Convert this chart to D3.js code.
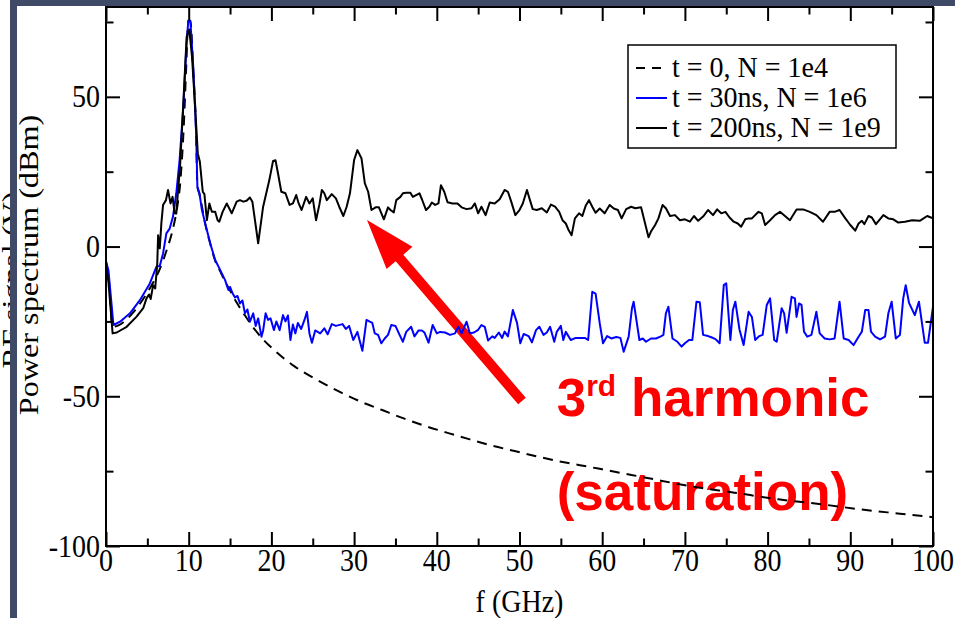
<!DOCTYPE html>
<html><head><meta charset="utf-8">
<script src="https://cdn.jsdelivr.net/npm/d3@7"></script>
<style>html,body{margin:0;padding:0;background:#fff;overflow:hidden}</style>
</head><body><svg id="c" width="955" height="618"></svg>
<script>
// ---------------- data ----------------
const xTicksMajor = [0,10,20,30,40,50,60,70,80,90,100];
const xTicksMinor = [5,15,25,35,45,55,65,75,85,95];
const yTicksMajor = [-100,-50,0,50];
const yTicksMinor = [-75,-25,25,75];
const seriesNames = ["t = 0, N = 1e4","t = 30ns, N = 1e6","t = 200ns, N = 1e9"];

const dashF = [0,0.3,0.8,1.5,2.5,3.5,4.5,5.5,6.5,7.3,8.1,8.6,9.0,9.4,9.7,9.95,10.2,10.55,10.9,11.05,11.3,12.0,12.6,13.2,13.8,14.4,15.0,15.8,16.8,17.8,19.0,20.5,22.8,25.5,28.1,30.8,33.4,36.0,38.7,41.4,44.0,46.7,49.4,52.0,54.7,57.3,60.0,65.3,70.6,76.0,81.3,86.6,91.9,96.0,100];
const dashP = [-5,-10,-26.8,-26.3,-24.3,-21.3,-17.5,-13,-7.5,-1.5,6,13,22,40,60,75.2,75.2,59,37.5,20,17.5,7.5,1,-4.7,-8.2,-11.7,-14.7,-18.7,-23,-27,-31,-35,-40,-44.5,-48.3,-51.8,-54.6,-57.4,-60,-62.3,-64.4,-66.5,-68.3,-70,-71.7,-73,-74.4,-77.2,-80,-82.2,-84.4,-86.1,-88,-89.2,-90.4];

const blueF = [0,0.3,0.9,1.7,2.9,4.1,5.3,6.1,6.5,6.9,7.3,7.7,8.1,8.5,8.9,9.35,9.7,9.95,10.2,10.55,10.9,11.05,11.3,11.6,12.0,12.6,13.2,13.8,14.4,14.8,15.0,15.3,15.6,15.9,16.2,16.5,16.8,17.1,17.4,17.8,18.1,18.4,18.8,19.0,19.3,19.6,19.9,20.3,20.6,21.0,21.4,21.7,22.0,22.3,22.6,22.9,23.2,23.6,24.0,24.3,24.6,24.9,25.3,25.9,26.4,26.8,27.3,27.8,28.6,29.0,29.4,29.9,30.4,31.0,31.5,31.9,32.2,32.5,32.9,33.3,33.7,34.1,34.5,35.0,35.5,35.9,36.3,36.9,37.3,37.8,38.2,38.5,39.0,39.5,40.0,40.4,41.0,41.6,42.2,42.6,43.0,43.6,44.0,44.5,45.0,45.4,45.8,46.2,46.7,47.0,47.5,47.9,48.2,48.6,49.2,49.7,50.1,50.5,51.1,51.5,52.0,52.4,52.9,53.3,53.7,54.2,54.5,55.0,55.3,55.6,56.2,56.8,57.4,57.9,58.3,58.8,59.2,59.7,60.1,60.6,61.1,61.7,62.2,62.6,63.2,63.6,63.8,64.5,64.9,65.3,65.9,66.5,67.1,67.4,67.7,68.0,68.5,69.1,69.6,70.0,70.5,70.9,71.4,71.8,72.2,72.8,73.2,73.7,74.2,74.7,75.0,75.5,75.8,76.1,76.6,77.1,77.7,78.1,78.5,79.0,79.4,79.9,80.3,80.8,81.1,81.7,82.0,82.3,82.9,83.3,83.5,83.8,84.1,84.4,84.8,85.3,85.9,86.3,86.9,87.5,88.1,88.7,89.2,89.8,90.4,91.0,91.4,91.8,92.2,92.5,93.0,93.6,94.2,94.6,95.0,95.5,96.0,96.4,96.7,97.1,97.8,98.3,99.0,99.4,100];
const blueP = [-5,-8,-26.2,-25.1,-22.3,-17.9,-12.3,-6.7,-6.5,-2.3,4.4,6,10,17.8,28.9,46.7,65.6,75.5,75.4,60,37.8,20,17.8,12.2,7.7,1.1,-4.5,-7.8,-11.2,-14.5,-13.5,-15.6,-17,-16.5,-19,-18,-22.3,-21,-25.1,-22.3,-26.5,-24,-30.1,-28,-22.3,-24.5,-24,-27.9,-25,-27.9,-22.9,-25,-23,-31.2,-26,-29,-25.5,-27.5,-24.5,-21.8,-29,-32.1,-28,-29,-27.3,-29.3,-25.9,-26.5,-25.9,-27.5,-26.5,-31.2,-28.5,-34.8,-24.5,-25.1,-25.5,-29,-29.5,-32.3,-30.7,-29.5,-26.2,-26.5,-29.5,-31.8,-28.5,-26.8,-30,-28,-28,-28.7,-32.1,-26.2,-29,-28.5,-28.7,-29.5,-29,-26.8,-29,-25.1,-29,-28.7,-27.8,-26.2,-26.8,-31.4,-30,-30.5,-28.7,-30.5,-28.4,-30,-21.2,-25.5,-32.3,-29.2,-29.9,-32,-27.9,-26.8,-29.5,-28.7,-26.8,-31.8,-28.5,-26.5,-31.2,-28.5,-31.2,-30.5,-30.5,-30.5,-31.2,-15.1,-15.7,-25.6,-32.3,-29.9,-30.7,-30.2,-30.5,-35.1,-30.1,-20.6,-18.4,-31.2,-30.7,-31.8,-30.7,-30.7,-30,-29.5,-22.3,-20.1,-30.7,-31.8,-33.4,-32.3,-31.2,-31.2,-18.4,-18.6,-29.5,-29.9,-30.3,-30.9,-32.3,-12.9,-12.3,-31.2,-21.2,-18.4,-27.7,-32.9,-21.8,-23.5,-31.2,-29.9,-29.5,-19.5,-17.3,-31.2,-31.8,-20.6,-22.3,-28.8,-16.8,-17.3,-23.5,-19,-19.5,-28.4,-30.1,-29.5,-21.8,-29,-30.7,-31,-30.7,-18.4,-30.7,-31.2,-32.9,-30.1,-28.4,-21.2,-21.2,-28.4,-30.1,-31,-30.1,-22.3,-18.4,-30.7,-29.5,-17.3,-12.9,-18.8,-22.9,-18.4,-32.1,-32.1,-20.1];

const blackF = [0,0.3,0.8,1.3,2.5,3.7,4.5,4.9,5.2,5.4,5.7,5.95,6.2,6.3,6.5,6.7,6.9,7.25,7.5,7.8,8.05,8.3,8.5,8.75,8.95,9.35,9.75,10.07,10.4,10.8,11.1,11.35,11.7,11.9,12.2,12.5,12.8,13.2,13.5,13.7,14.1,14.6,15.2,15.8,16.2,16.6,17.0,17.4,17.7,18.4,19.0,19.75,20.2,20.5,20.8,21.2,21.7,22.2,22.6,23.0,23.3,23.65,24.2,24.6,25.0,25.4,25.8,26.1,26.4,26.7,27.3,27.8,28.2,28.7,29.1,29.5,30.0,30.4,30.9,31.3,31.7,32.1,32.6,33.0,33.6,34.1,34.4,34.8,35.1,35.6,35.9,36.3,36.8,37.1,37.5,37.9,38.2,38.7,39.1,39.4,39.8,40.2,40.5,40.9,41.3,41.9,42.5,43.0,43.6,44.2,44.6,45.0,45.4,45.9,46.4,47.0,47.6,48.2,48.6,49.0,49.5,50.0,50.4,50.9,51.2,51.6,52.1,52.7,53.3,53.8,54.3,54.8,55.2,55.6,55.9,56.3,56.7,57.2,57.6,58.0,58.4,58.8,59.2,59.7,60.3,60.9,61.4,61.9,62.35,62.9,63.5,64.0,64.7,65.6,65.9,66.4,66.8,67.3,67.7,68.2,68.8,69.4,70.0,70.6,71.1,71.6,72.2,72.8,73.4,73.9,74.4,74.9,75.4,75.9,76.4,76.8,77.3,77.7,78.1,78.9,79.3,79.7,80.3,80.9,81.5,82.1,82.7,83.5,84.3,85.1,85.9,86.7,87.5,88.1,88.7,89.4,90.0,90.6,91.0,91.4,91.7,92.2,92.6,93.1,94.0,94.6,95.2,95.8,96.6,97.5,98.4,99.3,100];
const blackP = [-5.6,-12,-29,-28.7,-26.8,-23.4,-20.6,-17.3,-16,-17.5,-12.9,-14,-5.6,3.8,-0.6,8,13.9,15.5,18.9,14.4,16.6,11.1,11,20,26.6,47.8,70,72.5,63.4,45.6,31.1,28.3,18.3,17.5,8.8,14.4,11.6,11.6,8.8,8.3,11.6,14.4,11.1,15,15.5,15,15.3,16.4,15,1.1,13.3,22.2,28.6,28.8,24.4,18.3,17.8,13.9,14.4,17.2,14.4,12.2,16.6,14.4,16.1,8.8,14,18.9,17.8,15.5,17.5,16.1,13.3,10.2,13.3,17.8,28.9,32.2,29.4,21.1,18.3,12.2,13.1,13.1,9.1,13.1,12.2,11.4,15.5,16.6,17.8,18,18,16.6,17.2,17.8,15.8,12.2,13.3,14.7,13.9,14.4,20.5,18.3,14.8,14.4,14.4,13.1,12.5,12.8,14.4,11.1,13.3,10.5,14.7,14.4,15.8,18.9,18.3,15,10.5,12.2,14.4,18.9,16.1,12.5,12.2,12.8,11.4,14,13.3,11.6,8.8,7.7,5.7,3.8,9.4,11.1,10.2,13.6,15.5,13.3,11.3,12.7,11.1,13.9,12.7,12.2,9.4,12.5,13.3,12.8,13.1,3.1,5,7.2,9.4,13.9,12.8,10.2,10.5,8.8,9.1,8.3,10.2,8.6,10,12.2,10.5,12.4,11.1,11.6,9.7,8.3,7.7,6.6,9.1,9.4,9.4,11.6,11.1,7.2,8.8,10.5,11.6,10.2,8.8,12.4,12.4,11.6,10.5,8.3,11.6,11.6,12.2,9.4,7.2,5.3,7.7,8.6,7.5,10.2,9.7,7.5,10.5,9.4,9.1,8,8.3,8.8,8.6,10.2,9.4];

// ---------------- layout ----------------
const svg = d3.select("#c");
const L=106, R=933, T=7, B=546;
const x = d3.scaleLinear().domain([0,100]).range([L,R]);
const y = d3.scaleLinear().domain([-100,80]).range([B,T]);
const SERIF = "'Liberation Serif','Times New Roman',serif";
const SY = 1.15;          // vertical stretch of the plot's text
const FS = 28;
const band = "#3e4a66";

// underlying label, mostly covered by the slide panel (as in the reference)
svg.append("text").attr("transform",`translate(21,280) rotate(-90) scale(${SY},1)`)
  .attr("text-anchor","middle").attr("font-family",SERIF).attr("font-size",FS)
  .text("RF signal (V)");
svg.append("rect").attr("x",17).attr("y",0).attr("width",955-17).attr("height",618).attr("fill","#fff");
svg.append("rect").attr("x",10).attr("y",0).attr("width",7).attr("height",618).attr("fill",band);
svg.append("rect").attr("x",10).attr("y",0).attr("width",945).attr("height",6).attr("fill",band);

// annotations (under the curves)
const red = "#ff0000";
const tip = [x(31.56), y(8.9)], tail = [x(50.3), y(-51.6)];
(function(){
  const dx=tip[0]-tail[0], dy=tip[1]-tail[1], len=Math.hypot(dx,dy);
  const ux=dx/len, uy=dy/len, px=-uy, py=ux;
  const hl=50, hw=17, sw=5;
  const bx=tip[0]-ux*hl, by=tip[1]-uy*hl;
  const pts=[[tail[0]+px*sw,tail[1]+py*sw],[bx+px*sw,by+py*sw],[bx+px*hw,by+py*hw],tip,
             [bx-px*hw,by-py*hw],[bx-px*sw,by-py*sw],[tail[0]-px*sw,tail[1]-py*sw]];
  svg.append("polygon").attr("points",pts.map(p=>p.join(",")).join(" ")).attr("fill",red);
})();
const SANS="'Liberation Sans',Arial,Helvetica,sans-serif";
const t1 = svg.append("text").attr("x",x(54.5)).attr("y",y(-56.5)).attr("font-family",SANS)
  .attr("font-weight","bold").attr("font-size",53).attr("fill",red);
t1.append("tspan").text("3");
t1.append("tspan").attr("font-size",30).attr("dy",-20).text("rd");
t1.append("tspan").attr("dy",20).text(" harmonic");
svg.append("text").attr("x",x(54.5)).attr("y",y(-87.9)).attr("font-family",SANS)
  .attr("font-weight","bold").attr("font-size",53).attr("fill",red).text("(saturation)");

// clip
svg.append("clipPath").attr("id","clip").append("rect").attr("x",L).attr("y",T).attr("width",R-L).attr("height",B-T);

const g = svg.append("g").attr("clip-path","url(#clip)");
const lineS = d3.line().x(d=>x(d[0])).y(d=>y(d[1])).curve(d3.curveMonotoneX);
g.append("path").datum(d3.zip(dashF,dashP)).attr("d",lineS)
  .attr("fill","none").attr("stroke","#000").attr("stroke-width",2).attr("stroke-dasharray","10,7");
const lineL = d3.line().x(d=>x(d[0])).y(d=>y(d[1]));
g.append("path").datum(d3.zip(blueF,blueP)).attr("d",lineL)
  .attr("fill","none").attr("stroke","#0000ff").attr("stroke-width",2).attr("stroke-linejoin","round");
g.append("path").datum(d3.zip(blackF,blackP)).attr("d",lineL)
  .attr("fill","none").attr("stroke","#000").attr("stroke-width",2).attr("stroke-linejoin","round");

// axes (inward ticks on all four sides)
function ax(gen, scale, vals, size, tx, ty){
  svg.append("g").attr("transform",`translate(${tx},${ty})`)
    .call(gen(scale).tickValues(vals).tickSize(size).tickSizeOuter(0).tickFormat(""))
    .call(s=>{s.select(".domain").remove(); s.selectAll("line").attr("stroke","#000").attr("stroke-width",2);});
}
ax(d3.axisBottom, x, xTicksMajor, -14, 0, B);
ax(d3.axisBottom, x, xTicksMinor, -7.5, 0, B);
ax(d3.axisTop, x, xTicksMajor, -14, 0, T);
ax(d3.axisTop, x, xTicksMinor, -7.5, 0, T);
ax(d3.axisLeft, y, yTicksMajor, -14, L, 0);
ax(d3.axisLeft, y, yTicksMinor, -7.5, L, 0);
ax(d3.axisRight, y, yTicksMajor, -14, R, 0);
ax(d3.axisRight, y, yTicksMinor, -7.5, R, 0);
svg.append("rect").attr("x",L).attr("y",T).attr("width",R-L).attr("height",B-T)
  .attr("fill","none").attr("stroke","#000").attr("stroke-width",2);

// tick labels
xTicksMajor.forEach(v=>{
  svg.append("text").attr("transform",`translate(${x(v)},571) scale(1,${SY})`)
    .attr("text-anchor","middle").attr("font-family",SERIF).attr("font-size",FS).text(v);
});
yTicksMajor.forEach(v=>{
  svg.append("text").attr("transform",`translate(100,${y(v)+10.5}) scale(1,${SY})`)
    .attr("text-anchor","end").attr("font-family",SERIF).attr("font-size",FS).text(v);
});
svg.append("text").attr("transform",`translate(${(L+R)/2},612) scale(1,${SY})`)
  .attr("text-anchor","middle").attr("font-family",SERIF).attr("font-size",FS).text("f (GHz)");
svg.append("text").attr("transform",`translate(38,265) rotate(-90) scale(${SY},1)`)
  .attr("text-anchor","middle").attr("font-family",SERIF).attr("font-size",FS).text("Power spectrum (dBm)");

// legend
const lg = svg.append("g");
lg.append("rect").attr("x",628).attr("y",45).attr("width",268).attr("height",103)
  .attr("fill","#fff").attr("stroke","#000").attr("stroke-width",1.5);
const styles=[{c:"#000",d:"9,7"},{c:"#0000ff",d:null},{c:"#000",d:null}];
seriesNames.forEach((n,i)=>{
  const by = 77 + i*30;
  lg.append("line").attr("x1",636).attr("x2",667).attr("y1",by-9).attr("y2",by-9)
    .attr("stroke",styles[i].c).attr("stroke-width",2).attr("stroke-dasharray",styles[i].d);
  lg.append("text").attr("transform",`translate(672,${by}) scale(1,1.05)`)
    .attr("font-family",SERIF).attr("font-size",28).text(n);
});
</script></body></html>
